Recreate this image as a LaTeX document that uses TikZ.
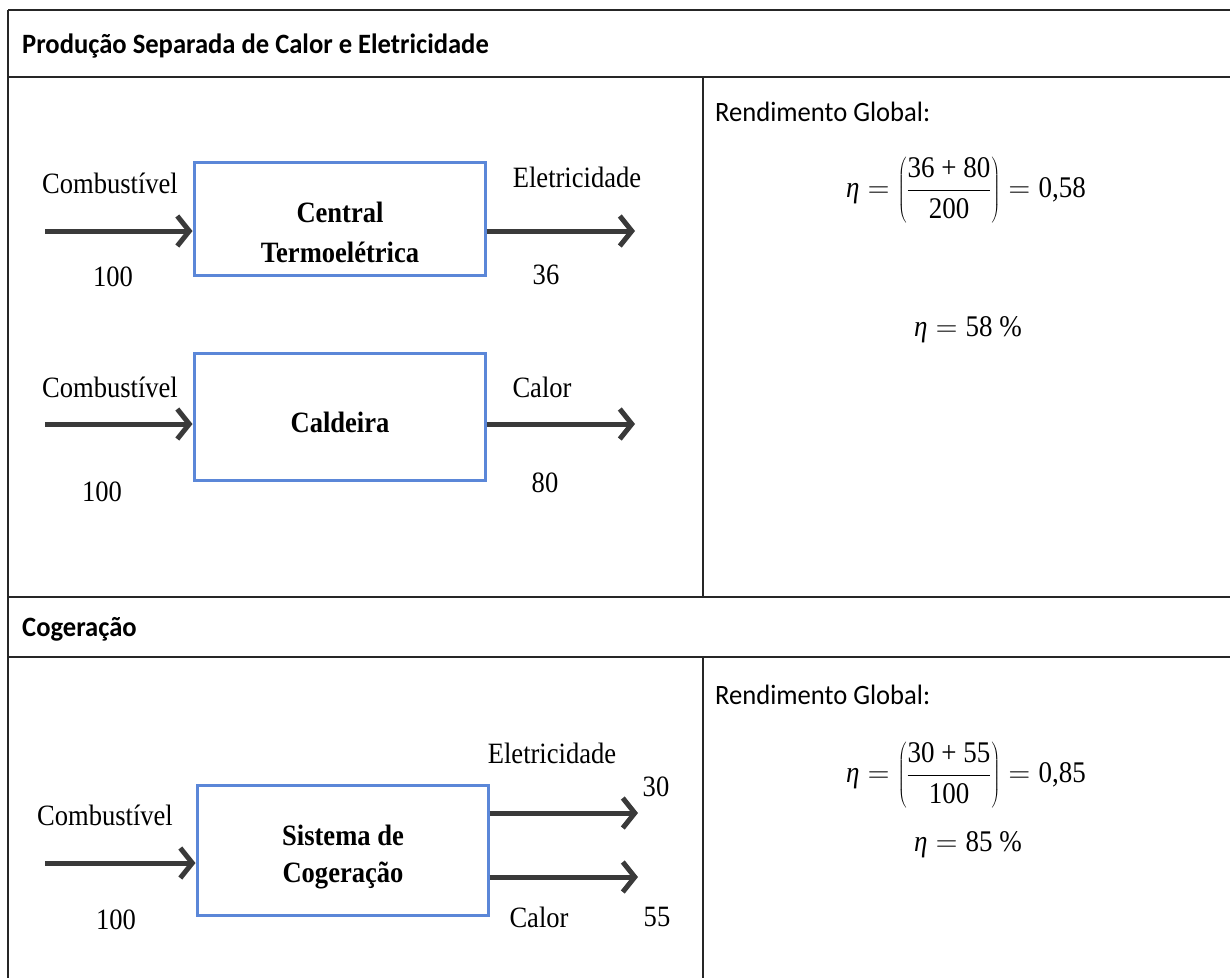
\RequirePackage{fix-cm}
\documentclass[tikz,border=0pt]{standalone}
\usepackage{fontspec}
\setmainfont{Liberation Serif}[FakeStretch=0.9]
\newfontfamily\calfont{Carlito}[FakeStretch=0.95]
\usetikzlibrary{arrows.meta}
\definecolor{boxblue}{RGB}{91,135,216}
\definecolor{arrowgray}{RGB}{58,58,58}

\begin{document}
\begin{tikzpicture}[x=1pt,y=-1pt,
  rule/.style={line width=1.6pt, black!85},
  unit/.style={draw=boxblue, line width=3pt, inner sep=0pt},
  flow/.style={arrowgray, line width=5pt,
    -{Straight Barb[length=12pt,width=30pt,line width=5pt]}},
  lbl/.style={font=\fontsize{29.5}{33}\selectfont, inner sep=0pt},
  unitname/.style={font=\fontsize{29.5}{33}\selectfont\bfseries, inner sep=0pt},
  head/.style={font=\calfont\bfseries\fontsize{28}{32}\selectfont, anchor=west, inner sep=0pt},
  note/.style={font=\calfont\fontsize{28}{32}\selectfont, anchor=west, inner sep=0pt},
  eq/.style={font=\fontsize{30}{34}\selectfont, inner sep=0pt}]
\useasboundingbox (0,0) rectangle (1230,978);

% table rules
\draw[rule] (8,10) -- (1230,10);
\draw[rule] (8,77) -- (1230,77);
\draw[rule] (8,597) -- (1230,597);
\draw[rule] (8,657) -- (1230,657);
\draw[rule] (8,10) -- (8,978);
\draw[rule] (703,77) -- (703,597);
\draw[rule] (703,657) -- (703,978);

% section headings
\node[head] (h1) at (22,46) {Produção Separada de Calor e Eletricidade};
\node[head] (h2) at (22,629) {Cogeração};

% separate production: power plant
\node[unit, minimum width=291pt, minimum height=113pt] (b1) at (339.5,218.5) {};
\node[unitname] (t1a) at (340,212) {Central};
\node[unitname] (t1b) at (340,252) {Termoelétrica};
\node[lbl] (c1) at (110,183) {Combustível};
\node[lbl] (n1) at (113,277) {100};
\node[lbl] (o1) at (577,177) {Eletricidade};
\node[lbl] (v1) at (546,275) {36};
\coordinate (s1) at (45,231);
\coordinate (e1) at (635,231);
\draw[flow] (s1) -- (s1 -| b1.west);
\draw[flow] (e1 -| b1.east) -- (e1);

% separate production: boiler
\node[unit, minimum width=291pt, minimum height=127pt] (b2) at (339.5,416.5) {};
\node[unitname] (t2) at (340,422) {Caldeira};
\node[lbl] (c2) at (110,387) {Combustível};
\node[lbl] (n2) at (102,492) {100};
\node[lbl] (o2) at (542,387) {Calor};
\node[lbl] (v2) at (545,483) {80};
\coordinate (s2) at (45,424);
\coordinate (e2) at (635,424);
\draw[flow] (s2) -- (s2 -| b2.west);
\draw[flow] (e2 -| b2.east) -- (e2);

% cogeneration system
\node[unit, minimum width=291pt, minimum height=130pt] (b3) at (342.5,850) {};
\node[unitname] (t3a) at (343,835) {Sistema de};
\node[unitname] (t3b) at (343,875) {Cogeração};
\node[lbl] (c3) at (105,815) {Combustível};
\node[lbl] (n3) at (116,920) {100};
\node[lbl] (o3) at (552,753) {Eletricidade};
\node[lbl] (v3) at (656,787) {30};
\node[lbl] (o4) at (539,917) {Calor};
\node[lbl] (v4) at (657,917) {55};
\coordinate (s3) at (45,863);
\coordinate (e3) at (638,813);
\coordinate (e4) at (638,877);
\draw[flow] (s3) -- (s3 -| b3.west);
\draw[flow] (e3 -| b3.east) -- (e3);
\draw[flow] (e4 -| b3.east) -- (e4);

% overall efficiency
\node[note] (r1) at (715,112) {Rendimento Global:};
\node[eq] (q1) at (966,190)
  {$\displaystyle \mbox{\itshape η} = \left(\frac{\mbox{36 + 80}}{\mbox{200}}\right) = \mbox{0,58}$};
\node[eq] (p1) at (968,330) {$\mbox{\itshape η} = \mbox{58 \%}$};

\node[note] (r2) at (715,695) {Rendimento Global:};
\node[eq] (q2) at (966,775)
  {$\displaystyle \mbox{\itshape η} = \left(\frac{\mbox{30 + 55}}{\mbox{100}}\right) = \mbox{0,85}$};
\node[eq] (p2) at (968,845) {$\mbox{\itshape η} = \mbox{85 \%}$};
\end{tikzpicture}
\end{document}
